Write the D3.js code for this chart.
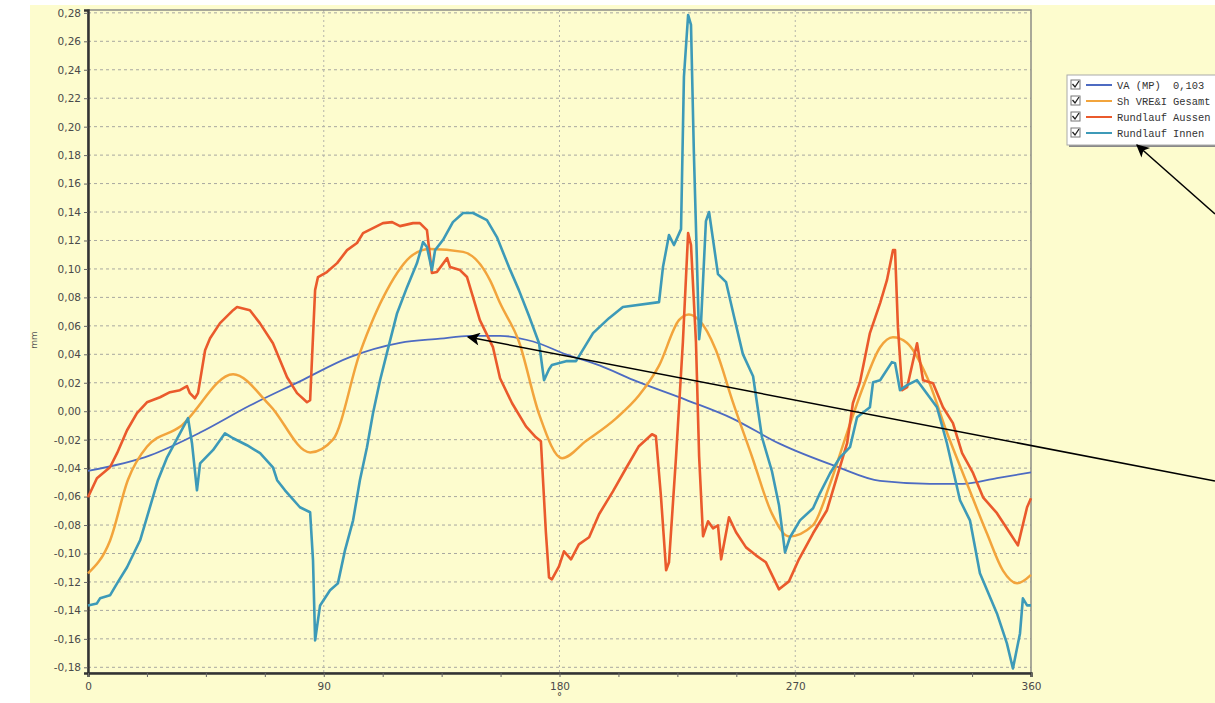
<!DOCTYPE html>
<html>
<head>
<meta charset="utf-8">
<script src="https://cdn.jsdelivr.net/npm/d3@7"></script>
<style>
body { margin:0; background:#fff; overflow:hidden; }
</style>
</head>
<body>
<script>
// angles in degrees, values in mm
var vaDeg = [0,23.7,42.8,61.8,80.9,100,119.1,134.4,145.8,157.3,169.9,182.5,195.5,208.1,228.3,245.9,264.2,285.9,302.4,321.4,334,347,360];
var vaVal = [-0.042,-0.031,-0.015,0.004,0.021,0.038,0.048,0.051,0.053,0.053,0.049,0.040,0.032,0.022,0.008,-0.005,-0.023,-0.039,-0.049,-0.051,-0.051,-0.047,-0.043];

var shDeg = [0,8.4,15.3,22.5,35.1,55.4,69.5,84.8,93.5,103.8,114.1,124.1,130.6,143.2,153.5,157.3,164.5,172.2,181,190.1,201.6,210.3,218,225.6,229.4,233.3,239.7,245.9,253.5,261.1,267.6,276.8,283.3,289.8,295.9,302.4,307.3,312.7,320.3,327.9,335.6,343.2,349.3,354.7,360];
var shVal = [-0.114,-0.091,-0.048,-0.025,-0.011,0.026,0.004,-0.029,-0.020,0.041,0.085,0.110,0.114,0.112,0.092,0.076,0.049,-0.002,-0.033,-0.021,-0.005,0.011,0.032,0.064,0.068,0.064,0.043,0.008,-0.032,-0.072,-0.088,-0.080,-0.051,-0.015,0.017,0.045,0.052,0.048,0.024,-0.015,-0.051,-0.086,-0.112,-0.121,-0.115];

var ausDeg = [0,3.4,8.4,11.1,14.9,18.7,22.5,27.5,31.3,35.1,37.8,38.9,40.8,42,44.7,46.6,50.4,55.4,56.9,61.8,65.6,70.6,76,79.8,83.6,84.8,86.7,87.8,91.2,95.1,98.9,102.7,105,108.8,112.6,116.1,119.1,124.1,126.7,129.4,131.3,133.2,137.1,138.2,142,144.7,149.6,154.6,157.3,161.9,167.2,171,172.9,174.8,176,177.1,179.8,181.7,184.4,187.4,191.3,195.1,200.4,205.4,210.3,215.3,216.8,218.7,220.7,221.8,224.5,227.1,229.1,230.2,232.1,233.3,234.8,236.7,238.6,240.5,241.7,244.7,247.4,251.2,255,258.8,263.8,267.6,271.4,276.8,282.1,285.9,289.8,292,294.7,298.5,302.4,305,307.3,308.1,309.2,310.8,312.7,316.5,318.8,322.6,326.4,330.2,333.7,337.9,341.7,347,352,355,358.5,360];
var ausVal = [-0.0605,-0.0471,-0.0394,-0.0295,-0.0134,-0.0014,0.0063,0.0098,0.0134,0.0148,0.0176,0.0127,0.0091,0.0127,0.0429,0.0513,0.0619,0.0710,0.0732,0.0710,0.0619,0.0478,0.0239,0.0127,0.0063,0.0077,0.0851,0.0943,0.0978,0.1041,0.1132,0.1182,0.1252,0.1287,0.1322,0.1329,0.1301,0.1322,0.1322,0.1273,0.0971,0.0978,0.1076,0.1013,0.0992,0.0943,0.0640,0.0450,0.0232,0.0056,-0.0106,-0.0183,-0.0211,-0.0851,-0.1168,-0.1182,-0.1090,-0.0985,-0.1041,-0.0936,-0.0886,-0.0724,-0.0563,-0.0401,-0.0246,-0.0162,-0.0176,-0.0591,-0.1118,-0.1062,-0.0317,0.0485,0.1252,0.1168,0.0485,-0.0317,-0.0879,-0.0774,-0.0823,-0.0802,-0.1041,-0.0746,-0.0851,-0.0957,-0.1013,-0.1062,-0.1252,-0.1196,-0.1041,-0.0858,-0.0696,-0.0464,-0.0225,0.0056,0.0204,0.0549,0.0760,0.0921,0.1132,0.1132,0.0591,0.0148,0.0169,0.0478,0.0218,0.0197,0.0028,-0.0084,-0.0295,-0.0436,-0.0605,-0.0717,-0.0858,-0.0943,-0.0675,-0.0612];

var innDeg = [0,3.4,4.6,8.4,11.1,14.9,19.9,26.7,30.2,35.1,38.2,39.7,41.6,42.8,43.9,47.7,52.3,55.4,60.7,65.7,70.6,72.2,75.2,80.9,84.8,85.9,86.7,88.6,92.4,95.4,98.1,101.2,103.8,106.5,108.8,111.5,114.1,118,121.8,125.6,127.9,129.4,131.3,132.5,135.5,139.3,143.2,147,152.3,156.1,160.7,164.5,168.4,172.2,174.1,176,177.1,182.5,186.3,192.8,198.9,204.2,218,219.5,221.8,223.7,226.4,227.5,229.1,230.2,231.3,233.3,234,235.9,237.1,240.5,243.6,246.6,250,253.9,257.3,261.1,263.8,266.1,268,271.8,276.8,279.4,283.3,287.1,290.9,293.6,298.5,299.7,302.4,306.9,308.1,310,312.7,316.5,324.1,327.9,332.9,336.7,340.5,347,350.8,353.1,355.8,356.9,358.5,360];
var innVal = [-0.1365,-0.1351,-0.1315,-0.1294,-0.1210,-0.1097,-0.0907,-0.0485,-0.0324,-0.0155,-0.0049,-0.0225,-0.0556,-0.0366,-0.0345,-0.0274,-0.0155,-0.0190,-0.0239,-0.0295,-0.0394,-0.0485,-0.0556,-0.0675,-0.0710,-0.1048,-0.1611,-0.1365,-0.1259,-0.1210,-0.0978,-0.0767,-0.0485,-0.0253,-0.0014,0.0218,0.0408,0.0689,0.0872,0.1041,0.1189,0.1154,0.0992,0.1132,0.1203,0.1329,0.1393,0.1393,0.1343,0.1224,0.1013,0.0851,0.0668,0.0478,0.0218,0.0295,0.0324,0.0352,0.0352,0.0549,0.0654,0.0732,0.0767,0.1013,0.1238,0.1168,0.1280,0.2349,0.2785,0.2715,0.1815,0.0506,0.0612,0.1336,0.1400,0.0964,0.0907,0.0668,0.0401,0.0246,-0.0183,-0.0422,-0.0661,-0.0992,-0.0886,-0.0767,-0.0682,-0.0577,-0.0436,-0.0324,-0.0253,-0.0042,0.0028,0.0204,0.0218,0.0345,0.0338,0.0148,0.0183,0.0218,0.0028,-0.0225,-0.0626,-0.0767,-0.1139,-0.1421,-0.1632,-0.1808,-0.1562,-0.1315,-0.1365,-0.1365];

var yTicks = [-0.18,-0.16,-0.14,-0.12,-0.10,-0.08,-0.06,-0.04,-0.02,0,0.02,0.04,0.06,0.08,0.10,0.12,0.14,0.16,0.18,0.20,0.22,0.24,0.26,0.28];
var xTicks = [0,90,180,270,360];
var legendNames = ["VA (MP)  0,103", "Sh VRE&I Gesamt", "Rundlauf Aussen", "Rundlauf Innen"];
var colors = ["#4d6bc2", "#f2a43c", "#ea5a2c", "#3d9ab8"];

var W = 1215, H = 703;

var svg = d3.select("body").append("svg")
    .attr("width", W)
    .attr("height", H);

// pale yellow panel
svg.append("rect").attr("x",30).attr("y",5).attr("width",W-30).attr("height",H-5).attr("fill","#fdfcce");

var x = d3.scaleLinear().domain([0,360]).range([88,1031]);
var y = d3.scaleLinear().domain([-0.184,0.282]).range([673,10]);

var fmt = function(d){ return d3.format(".2f")(d).replace(".", ",").replace("−","-"); };

// grid
svg.append("g").selectAll("line")
    .data(yTicks)
    .enter().append("line")
    .attr("x1", x(0)).attr("x2", x(360))
    .attr("y1", function(d){ return y(d); })
    .attr("y2", function(d){ return y(d); })
    .attr("stroke","#a8a8a0")
    .attr("stroke-width",1)
    .attr("stroke-dasharray","3,3");

svg.append("g").selectAll("line")
    .data([90,180,270])
    .enter().append("line")
    .attr("x1", function(d){ return x(d); })
    .attr("x2", function(d){ return x(d); })
    .attr("y1", y.range()[1]).attr("y2", y.range()[0])
    .attr("stroke","#b4b4aa")
    .attr("stroke-width",1)
    .attr("stroke-dasharray","2,3");

// frame
svg.append("rect")
    .attr("x", x(0)).attr("y", 10)
    .attr("width", x(360)-x(0)).attr("height", 663)
    .attr("fill","none").attr("stroke","#8c8c86").attr("stroke-width",1.5);

// axes
var yAxis = d3.axisLeft(y).tickValues(yTicks).tickSize(4).tickFormat(fmt);
var xAxis = d3.axisBottom(x).tickValues(d3.range(0,361,22.5)).tickSize(4)
    .tickFormat(function(d){ return xTicks.indexOf(d) >= 0 ? d : ""; });

var gy = svg.append("g").attr("transform","translate(" + x(0) + ",0)").call(yAxis);
var gx = svg.append("g").attr("transform","translate(0,673)").call(xAxis);

[gy, gx].forEach(function(g){
    g.select(".domain").attr("stroke","#333").attr("stroke-width",2.5);
    g.selectAll(".tick line").attr("stroke","#666");
    g.selectAll("text").attr("fill","#4a4a4a").attr("font-family","DejaVu Sans, Verdana, sans-serif").attr("font-size","10.5px");
});
gy.selectAll("text").attr("x",-7);
gx.selectAll("text").attr("y",10);

svg.append("text").attr("transform","translate(37,340) rotate(-90)")
    .attr("text-anchor","middle")
    .attr("font-family","DejaVu Sans, Verdana, sans-serif").attr("font-size","9px").attr("fill","#555")
    .text("mm");
svg.append("text").attr("x", x(180)).attr("y", 700)
    .attr("text-anchor","middle")
    .attr("font-family","DejaVu Sans, Verdana, sans-serif").attr("font-size","10px").attr("fill","#333")
    .text("°");

// lines
var series = [
    {deg: vaDeg, val: vaVal, w: 1.8, curve: d3.curveMonotoneX},
    {deg: shDeg, val: shVal, w: 2.5, curve: d3.curveMonotoneX},
    {deg: ausDeg, val: ausVal, w: 2.6, curve: d3.curveLinear},
    {deg: innDeg, val: innVal, w: 2.6, curve: d3.curveLinear}
];

series.forEach(function(s, i){
    var pts = s.deg.map(function(d,k){ return [d, s.val[k]]; });
    var line = d3.line()
        .x(function(d){ return x(d[0]); })
        .y(function(d){ return y(d[1]); })
        .curve(s.curve);
    svg.append("path")
        .attr("d", line(pts))
        .attr("fill","none")
        .attr("stroke", colors[i])
        .attr("stroke-width", s.w)
        .attr("stroke-linejoin","round");
});

// legend box runs off the right edge like the screenshot
var lg = svg.append("g").attr("transform","translate(1067,75)");
lg.append("rect").attr("x",2).attr("y",2).attr("width",200).attr("height",70).attr("fill","#888");
lg.append("rect").attr("width",200).attr("height",70).attr("fill","#fff").attr("stroke","#aaa");
legendNames.forEach(function(n,i){
    var row = lg.append("g").attr("transform","translate(0," + (10 + i*16) + ")");
    row.append("rect").attr("x",4).attr("y",-5).attr("width",9).attr("height",9)
        .attr("fill","#fff").attr("stroke","#777");
    row.append("path").attr("d","M5.5,-1 L8,2 L12,-4").attr("fill","none").attr("stroke","#222").attr("stroke-width",1.3);
    row.append("line").attr("x1",19).attr("x2",45).attr("y1",0).attr("y2",0)
        .attr("stroke",colors[i]).attr("stroke-width",2);
    row.append("text").attr("x",50).attr("y",4)
        .attr("font-family","Liberation Mono, DejaVu Sans Mono, monospace").attr("font-size","10.4px")
        .attr("fill","#333")
        .style("white-space","pre")
        .text(n);
});

// annotation arrows
var defs = svg.append("defs");
defs.append("marker").attr("id","arr")
    .attr("viewBox","0 0 10 10").attr("refX",9).attr("refY",5)
    .attr("markerWidth",15).attr("markerHeight",13).attr("orient","auto")
    .attr("markerUnits","userSpaceOnUse")
    .append("path").attr("d","M0,0 L10,5 L0,10 L2.5,5 z").attr("fill","#000");

svg.append("line").attr("x1",1215).attr("y1",214).attr("x2",1137).attr("y2",145)
    .attr("stroke","#000").attr("stroke-width",1.5).attr("marker-end","url(#arr)");
svg.append("line").attr("x1",1215).attr("y1",481).attr("x2",468).attr("y2",337)
    .attr("stroke","#000").attr("stroke-width",1.5).attr("marker-end","url(#arr)");
</script>
</body>
</html>
